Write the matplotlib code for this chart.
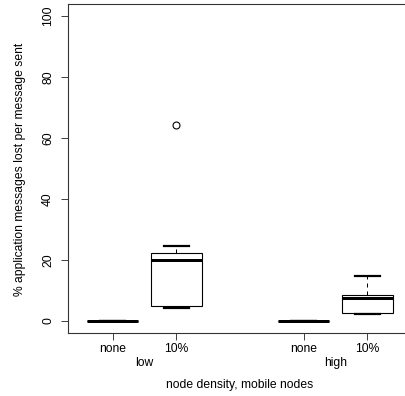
import matplotlib
matplotlib.use("Agg")
import matplotlib.pyplot as plt

# five-number summaries per condition (percent of messages lost)
density = ["low", "high"]
density_pos = [1.5, 4.5]
mobile = ["none", "10%", "none", "10%"]
positions = [1, 2, 4, 5]
whislo = [0.0, 4.2, 0.0, 2.1]
q1 = [0.0, 4.9, 0.0, 2.5]
med = [0.0, 20.1, 0.0, 7.5]
q3 = [0.0, 22.2, 0.0, 8.6]
whishi = [0.0, 24.6, 0.0, 14.8]
outliers = [[], [64.2], [], []]

plt.rcParams["font.family"] = ["Liberation Sans", "DejaVu Sans"]
plt.rcParams["font.size"] = 8.7

px = 0.72  # one pixel in points at dpi 100
fig = plt.figure(figsize=(4.06, 3.96), dpi=100)
ax = fig.add_axes([68 / 406, 63 / 396, 344 / 406, 329 / 396])

stats = []
for i in range(len(positions)):
    stats.append(dict(whislo=whislo[i], q1=q1[i], med=med[i], q3=q3[i],
                      whishi=whishi[i], fliers=outliers[i],
                      label=mobile[i]))

ax.bxp(stats, positions=positions, widths=0.8, capwidths=0.4,
       patch_artist=True,
       boxprops=dict(facecolor="white", edgecolor="black", linewidth=1.1 * px),
       medianprops=dict(color="black", linewidth=3 * px),
       whiskerprops=dict(color="black", linewidth=1 * px, linestyle=(0, (4, 4))),
       capprops=dict(color="black", linewidth=2.2 * px),
       flierprops=dict(marker="o", markerfacecolor="none", markeredgecolor="black",
                       markersize=5, markeredgewidth=1.1 * px))

ax.set_xlim(0.3, 5.7)
ax.set_ylim(-4, 104)
ax.set_yticks([0, 20, 40, 60, 80, 100])
ax.set_yticklabels(["0", "20", "40", "60", "80", "100"], rotation=90, va="center")
ax.set_xticks(positions)
ax.set_xticklabels(mobile)
ax.tick_params(direction="out", length=7 * px, width=1 * px, color="#444444")
ax.tick_params(axis="y", pad=5)
ax.tick_params(axis="x", pad=2.5)

for s in ax.spines.values():
    s.set_linewidth(1.1 * px)
    s.set_color("#333333")
ax.spines["right"].set_visible(False)

# second row of x labels: node density group
for name, xpos in zip(density, density_pos):
    ax.text(xpos, -0.09, name, transform=ax.get_xaxis_transform(),
            ha="center", va="center")

fig.text(240 / 406, 1 - 385 / 396, "node density, mobile nodes",
         ha="center", va="center")
fig.text(20 / 406, 1 - 169 / 396, "% application messages lost per message sent",
         ha="center", va="center", rotation=90)

fig.savefig("out.png", dpi=100)
